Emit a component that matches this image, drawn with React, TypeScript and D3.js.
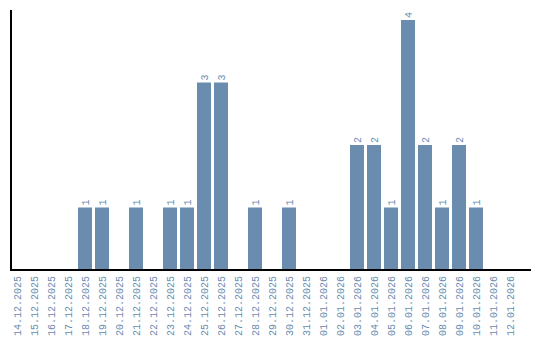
import React from "react";
import * as d3 from "d3";

const dates = [
  "14.12.2025","15.12.2025","16.12.2025","17.12.2025","18.12.2025","19.12.2025","20.12.2025",
  "21.12.2025","22.12.2025","23.12.2025","24.12.2025","25.12.2025","26.12.2025","27.12.2025",
  "28.12.2025","29.12.2025","30.12.2025","31.12.2025","01.01.2026","02.01.2026","03.01.2026",
  "04.01.2026","05.01.2026","06.01.2026","07.01.2026","08.01.2026","09.01.2026","10.01.2026",
  "11.01.2026","12.01.2026",
];
const counts = [0,0,0,0,1,1,0,1,0,1,1,3,3,0,1,0,1,0,0,0,2,2,1,4,2,1,2,1,0,0];

const W = 540, H = 340;
const left = 10, top = 20, baseY = 270;
const barColor = "#6a8caf";
const textColor = "#6a8caf";
const font = "'Liberation Mono', monospace";

export default function App() {
  const x = d3
    .scaleBand<string>()
    .domain(dates)
    .range([left, left + 17 * dates.length - 3])
    .paddingInner(3 / 17)
    .paddingOuter(0);
  const bw = x.bandwidth();
  const y = d3.scaleLinear().domain([0, 4]).range([baseY, top]);

  return (
    <svg width={W} height={H} style={{ position: "absolute", left: 0, top: 0 }}>
      {dates.map((d, i) => {
        const v = counts[i];
        if (!v) return null;
        const x0 = x(d)!;
        const cx = x0 + bw / 2;
        return (
          <g key={d}>
            <rect x={x0} y={y(v)} width={bw} height={baseY - y(v)} fill={barColor} />
            <text
              transform={`translate(${cx + 3.5},${y(v) - 2}) rotate(-90)`}
              fontFamily={font}
              fontSize={10}
              fill={textColor}
            >
              {v}
            </text>
          </g>
        );
      })}
      <line x1={11} x2={11} y1={10} y2={baseY + 1} stroke="#000" strokeWidth={2} />
      <line x1={10} x2={531} y1={baseY} y2={baseY} stroke="#000" strokeWidth={2} />
      {dates.map((d) => {
        const cx = x(d)! + bw / 2;
        return (
          <text
            key={"t" + d}
            transform={`translate(${cx + 3.5},${baseY + 6}) rotate(-90)`}
            textAnchor="end"
            fontFamily={font}
            fontSize={10}
            fill={textColor}
          >
            {d}
          </text>
        );
      })}
    </svg>
  );
}
